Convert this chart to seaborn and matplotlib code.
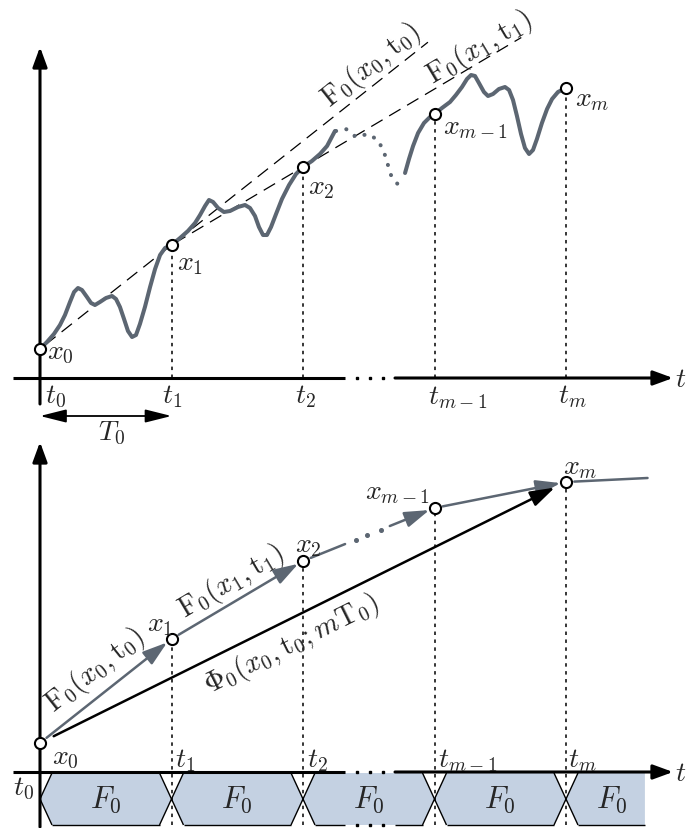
import matplotlib
matplotlib.use("Agg")
import numpy as np
import matplotlib.pyplot as plt
from matplotlib.patches import Polygon
import seaborn as sns

sns.set_style("white")
plt.rcParams["mathtext.fontset"] = "cm"
plt.rcParams["lines.scale_dashes"] = False

# ---------------------------------------------------------------- data
# sampling instants t_k (in units of the period T0) and sampled states x_k
t_nodes = [0, 1, 2, 3, 4]
x_nodes = [0.29, 1.33, 2.11, 2.64, 2.90]
node_labels = [r"$x_0$", r"$x_1$", r"$x_2$", r"$x_{m-1}$", r"$x_m$"]
tick_labels = [r"$t_0$", r"$t_1$", r"$t_2$", r"$t_{m-1}$", r"$t_m$"]

# oscillating trajectory x(t): first stretch t0 .. past t2
traj_a_t = [0.000, 0.053, 0.106, 0.152, 0.190, 0.228, 0.259, 0.289, 0.319, 0.357,
            0.388, 0.418, 0.456, 0.502, 0.548, 0.578, 0.608, 0.639, 0.669, 0.700,
            0.730, 0.760, 0.798, 0.837, 0.875, 0.913, 0.951, 1.000, 1.065, 1.125,
            1.179, 1.217, 1.255, 1.285, 1.316, 1.354, 1.399, 1.445, 1.506, 1.559,
            1.597, 1.635, 1.665, 1.696, 1.726, 1.757, 1.795, 1.840, 1.894, 1.947,
            2.000, 2.068, 2.129, 2.183, 2.243]
traj_a_x = [0.29, 0.36, 0.44, 0.53, 0.63, 0.76, 0.86, 0.90, 0.88, 0.81,
            0.75, 0.73, 0.76, 0.80, 0.82, 0.79, 0.71, 0.59, 0.47, 0.41,
            0.43, 0.54, 0.71, 0.91, 1.09, 1.23, 1.30, 1.33, 1.40, 1.47,
            1.55, 1.63, 1.72, 1.78, 1.76, 1.70, 1.66, 1.67, 1.71, 1.73,
            1.70, 1.62, 1.51, 1.43, 1.43, 1.51, 1.64, 1.79, 1.93, 2.04,
            2.11, 2.17, 2.24, 2.32, 2.47]
# omitted periods (dotted)
traj_b_t = [2.251, 2.327, 2.403, 2.494, 2.570, 2.616, 2.669, 2.730]
traj_b_x = [2.47, 2.49, 2.41, 2.44, 2.38, 2.26, 2.03, 1.92]
# last stretch up to t_m
traj_c_t = [2.776, 2.806, 2.837, 2.875, 2.920, 2.966, 3.000, 3.057, 3.118, 3.163,
            3.209, 3.247, 3.278, 3.308, 3.338, 3.376, 3.407, 3.445, 3.490, 3.536,
            3.567, 3.597, 3.627, 3.658, 3.688, 3.719, 3.749, 3.779, 3.817, 3.856,
            3.894, 3.939, 4.000]
traj_c_x = [2.05, 2.19, 2.32, 2.45, 2.55, 2.61, 2.64, 2.70, 2.76, 2.83,
            2.91, 2.99, 3.03, 3.02, 2.95, 2.86, 2.82, 2.84, 2.89, 2.91,
            2.88, 2.78, 2.62, 2.44, 2.30, 2.24, 2.28, 2.39, 2.55, 2.69,
            2.79, 2.86, 2.90]

# continuation of the discrete map after x_m
tail_t = [4.0, 4.62]
tail_x = [2.90, 2.94]

period_label = r"$F_0$"
strip_end_t = 4.60

# ---------------------------------------------------------------- layout
W, H, DPI = 686, 829, 100
PX_T = 131.5      # pixels per period T0
PX_X = 100.0      # pixels per state unit
ORIGIN_PX = 40
GRAY = "#5c6672"
FILL = "#c4d1e2"
FS = 20
FS_ROT = 20.5


def dt(px):
    return px / PX_T


fig = plt.figure(figsize=(W / DPI, H / DPI), dpi=DPI)


def panel(top_px, bottom_px, base_px):
    ax = fig.add_axes([0, 1 - bottom_px / H, 1, (bottom_px - top_px) / H])
    ax.set_xlim(-ORIGIN_PX / PX_T, (W - ORIGIN_PX) / PX_T)
    ax.set_ylim((base_px - bottom_px) / PX_X, (base_px - top_px) / PX_X)
    ax.set_axis_off()
    ax.patch.set_alpha(0)
    return ax


ax_top = panel(0, 445, 379)
ax_bot = panel(425, 829, 773)

AX_LW = 2.2
GAP = (dt(345 - ORIGIN_PX), dt(395 - ORIGIN_PX))
GAP_DOTS = [dt(357 - ORIGIN_PX), dt(370 - ORIGIN_PX), dt(383 - ORIGIN_PX)]


def arrow(ax, p, q, color="k", lw=AX_LW, sA=0, sB=0,
          style="-|>,head_length=0.6,head_width=0.22", ls="-", z=3):
    ax.annotate("", xy=q, xytext=p, annotation_clip=False,
                arrowprops=dict(arrowstyle=style, mutation_scale=20, color=color,
                                lw=lw, shrinkA=sA, shrinkB=sB, linestyle=ls),
                zorder=z)


def frame(ax, v_low, v_tip):
    arrow(ax, (0, v_low), (0, v_tip))
    ax.plot([dt(-27), GAP[0]], [0, 0], color="k", lw=AX_LW, solid_capstyle="butt", zorder=3)
    ax.plot(GAP_DOTS, [0] * 3, "s", color="k", ms=1.8, zorder=3)
    arrow(ax, (GAP[1], 0), (dt(633), 0))
    ax.text(dt(641), 0, r"$t$", fontsize=FS, ha="center", va="center")


def screen_angle(ax, p, q):
    a = ax.transData.transform(p)
    b = ax.transData.transform(q)
    return np.degrees(np.arctan2(b[1] - a[1], b[0] - a[0]))


def along(ax, p, q, pos, text, size=FS_ROT):
    ax.text(pos[0], pos[1], text, rotation=screen_angle(ax, p, q),
            rotation_mode="anchor", ha="center", va="center", fontsize=size)


def node_marks(ax):
    sns.scatterplot(x=t_nodes, y=x_nodes, ax=ax, s=64, color="white",
                    edgecolor="black", linewidth=1.5, zorder=6, legend=False)


def trajectory(ax, t, x, style=None):
    sns.lineplot(x=t, y=x, ax=ax, sort=False, estimator=None, color=GRAY, lw=2.9, zorder=4)
    line = ax.lines[-1]
    line.set_solid_joinstyle("round")
    line.set_solid_capstyle("round")
    if style is not None:
        line.set_linestyle(style)
        line.set_dash_capstyle("round")


DOT_LS = (0, (2.5, 3.2))
nodes = list(zip(t_nodes, x_nodes))

# ================================================================ top panel
frame(ax_top, -0.26, 3.31)

# linearised one-period maps through x0 and x1
for k, (t_a, t_b) in enumerate([(0.04, 2.95), (1.02, 3.66)]):
    slope = (x_nodes[k + 1] - x_nodes[k]) / (t_nodes[k + 1] - t_nodes[k])
    tt = np.array([t_a, t_b])
    ax_top.plot(tt, x_nodes[k] + slope * (tt - t_nodes[k]), color="k", lw=0.9,
                dashes=(9.5, 5.5), zorder=2)

for k in range(1, 5):
    ax_top.plot([t_nodes[k]] * 2, [0, x_nodes[k]], color="k", lw=1.1, ls=DOT_LS, zorder=1)

trajectory(ax_top, traj_a_t, traj_a_x)
trajectory(ax_top, traj_b_t, traj_b_x, (0, (0.1, 7.5)))
trajectory(ax_top, traj_c_t, traj_c_x)
node_marks(ax_top)

top_offsets = [(5, -1.4), (4.3, -12.2), (3.6, -13.7), (5.8, -8.6), (6.5, -7.2)]
for (t, x), lab, off in zip(nodes, node_labels, top_offsets):
    ax_top.annotate(lab, (t, x), xytext=off, textcoords="offset points",
                    ha="left", va="center", fontsize=FS, zorder=7)

top_tick_offsets = [(3.6, -12.2), (-6.5, -12.2), (-5.8, -12.2), (-5.0, -13.0), (-5.8, -12.2)]
for t, lab, off in zip(t_nodes, tick_labels, top_tick_offsets):
    ax_top.annotate(lab, (t, 0), xytext=off, textcoords="offset points",
                    ha="left", va="center", fontsize=FS)

along(ax_top, nodes[0], nodes[1], (2.52, 3.14), r"$\mathrm{F}_0(x_0,\mathrm{t}_0)$")
along(ax_top, nodes[1], nodes[2], (3.34, 3.31), r"$\mathrm{F}_0(x_1,\mathrm{t}_1)$")

# period T0
arrow(ax_top, (0, -0.38), (1, -0.38), lw=1.3,
      style="<|-|>,head_length=0.8,head_width=0.2")
ax_top.text(0.541, -0.54, r"$T_0$", fontsize=FS, ha="center", va="center")

# ================================================================ bottom panel
frame(ax_bot, -0.55, 3.30)

y_top, y_bot, y_mid = -0.01, -0.53, -0.27
off = dt(12)
edge = dict(color="k", lw=1.0, solid_capstyle="butt", zorder=2)

bounds = list(zip(t_nodes[:-1], t_nodes[1:]))
for k, (a, b) in enumerate(bounds):
    hexv = [(a, y_mid), (a + off, y_top), (b - off, y_top), (b, y_mid),
            (b - off, y_bot), (a + off, y_bot)]
    ax_bot.add_patch(Polygon(hexv, closed=True, facecolor=FILL, edgecolor="none", zorder=1))
    ax_bot.plot([a + off, a, a + off], [y_top, y_mid, y_bot], **edge)
    ax_bot.plot([b - off, b, b - off], [y_top, y_mid, y_bot], **edge)
    if a <= GAP[0] <= b:
        ax_bot.plot([a + off, GAP[0]], [y_bot] * 2, **edge)
        ax_bot.plot([GAP[1], b - off], [y_bot] * 2, **edge)
        ax_bot.plot(GAP_DOTS, [y_bot] * 3, "s", color="k", ms=1.5, zorder=2)
    else:
        ax_bot.plot([a + off, b - off], [y_bot] * 2, **edge)
    ax_bot.text((a + b) / 2, y_mid, period_label, fontsize=22, ha="center", va="center")

# last, open-ended period
a = t_nodes[-1]
lastv = [(a, y_mid), (a + off, y_top), (strip_end_t, y_top), (strip_end_t, y_bot), (a + off, y_bot)]
ax_bot.add_patch(Polygon(lastv, closed=True, facecolor=FILL, edgecolor="none", zorder=1))
ax_bot.plot([a + off, a, a + off], [y_top, y_mid, y_bot], **edge)
ax_bot.plot([a + off, strip_end_t], [y_bot] * 2, **edge)
ax_bot.text(a + 0.35, y_mid, period_label, fontsize=22, ha="center", va="center")

for k in range(1, 5):
    ax_bot.plot([t_nodes[k]] * 2, [y_bot, x_nodes[k]], color="k", lw=1.1, ls=DOT_LS, zorder=2)

# one-period steps of the discrete map
HEAD = "-|>,head_length=0.75,head_width=0.24"
arrow(ax_bot, nodes[0], nodes[1], GRAY, 1.8, 6, 4, HEAD, z=4)
arrow(ax_bot, nodes[1], nodes[2], GRAY, 1.8, 6, 4, HEAD, z=4)

p2, p3 = np.array(nodes[2], float), np.array(nodes[3], float)
seg = lambda f: tuple(p2 + f * (p3 - p2))
arrow(ax_bot, nodes[2], seg(0.32), GRAY, 1.8, 6, 0, "-", z=4)
dots = np.array([seg(f) for f in (0.40, 0.49, 0.59)])
ax_bot.plot(dots[:, 0], dots[:, 1], "o", color=GRAY, ms=2.6, zorder=4)
arrow(ax_bot, seg(0.66), nodes[3], GRAY, 1.8, 0, 4, HEAD, z=4)
arrow(ax_bot, nodes[3], nodes[4], GRAY, 1.8, 6, 4, HEAD, z=4)
arrow(ax_bot, (tail_t[0], tail_x[0]), (tail_t[1], tail_x[1]), GRAY, 1.8, 6, 0, "-", z=4)

# m-period flow map
arrow(ax_bot, nodes[0], nodes[4], "k", 1.8, 11, 9, HEAD, z=5)

node_marks(ax_bot)

bot_offsets = [((8.6, -9.4), "left"), ((-8.6, 11.2), "center"), ((3.6, 12.0), "center"),
               ((-2.9, 12.0), "right"), ((10.0, 11.5), "center")]
for (t, x), lab, (o, ha) in zip(nodes, node_labels, bot_offsets):
    ax_bot.annotate(lab, (t, x), xytext=o, textcoords="offset points",
                    ha=ha, va="center", fontsize=FS, zorder=7)

bot_tick_offsets = [((-12.2, -10.8), "center"), ((2.2, 9.4), "left"), ((2.9, 9.4), "left"),
                    ((2.2, 9.4), "left"), ((1.5, 9.4), "left")]
for t, lab, (o, ha) in zip(t_nodes, tick_labels, bot_tick_offsets):
    ax_bot.annotate(lab, (t, 0), xytext=o, textcoords="offset points",
                    ha=ha, va="center", fontsize=FS)

along(ax_bot, nodes[0], nodes[1], (0.418, 1.03), r"$\mathrm{F}_0(x_0,\mathrm{t}_0)$")
along(ax_bot, nodes[1], nodes[2], (1.452, 1.91), r"$\mathrm{F}_0(x_1,\mathrm{t}_1)$")
along(ax_bot, nodes[0], nodes[4], (1.909, 1.28), r"$\Phi_0(x_0,\mathrm{t}_0;m\mathrm{T}_0)$")

fig.savefig("out.png", dpi=DPI)
